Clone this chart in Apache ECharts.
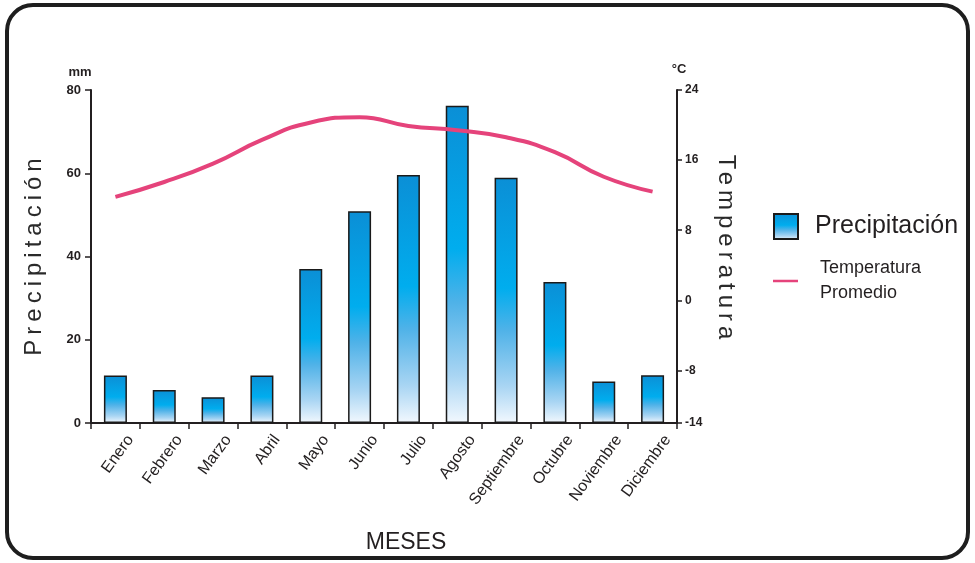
<!DOCTYPE html>
<html><head><meta charset="utf-8">
<script src="https://cdn.jsdelivr.net/npm/echarts@6/dist/echarts.min.js"></script>
<style>html,body{margin:0;padding:0;background:#fff}#c{width:975px;height:563px}</style>
</head><body><div id="c"></div>
<script>
const months = ['Enero','Febrero','Marzo','Abril','Mayo','Junio','Julio','Agosto','Septiembre','Octubre','Noviembre','Diciembre'];
const precipitation = [11.4, 7.9, 6.2, 11.4, 37, 50.9, 59.6, 76.2, 58.9, 33.9, 10, 11.5];
const temperature = [11.8, 13.5, 15.6, 18.3, 20.3, 20.9, 19.9, 19.4, 18.6, 16.9, 14.1, 12.4];
const precipTicks = [0, 20, 40, 60, 80];
const tempTicks = [-14, -8, 0, 8, 16, 24];

// letter spacing only for the two rotated axis titles
(function(){
  const orig = CanvasRenderingContext2D.prototype.fillText;
  CanvasRenderingContext2D.prototype.fillText = function(t, x, y, mw){
    const m = this.getTransform ? this.getTransform() : null;
    const spaced = m && Math.abs(m.b) > 0.9 && (t === 'Precipitación' || t === 'Temperatura') && ('letterSpacing' in this);
    if (spaced) {
      const f = this.font;
      this.letterSpacing = '5px';
      this.font = f;
      const r = orig.call(this, t, x, y);
      this.letterSpacing = '0px';
      this.font = '10px serif';
      this.font = f;
      return r;
    }
    if ('letterSpacing' in this && this.letterSpacing !== '0px') {
      const f = this.font;
      this.letterSpacing = '0px';
      this.font = '10px serif';
      this.font = f;
    }
    return mw === undefined ? orig.call(this, t, x, y) : orig.call(this, t, x, y, mw);
  };
})();

const FONT = 'Liberation Sans, Arial, Helvetica, sans-serif';
const INK = '#231f20';
const PINK = '#e5437b';
const barGradient = new echarts.graphic.LinearGradient(0, 0, 0, 1, [
  {offset: 0, color: '#0b8fd6'},
  {offset: 0.45, color: '#00adee'},
  {offset: 0.62, color: '#4fb2e8'},
  {offset: 0.85, color: '#a9d5f3'},
  {offset: 1, color: '#f2f8fe'}
]);

const chart = echarts.init(document.getElementById('c'), null, {renderer: 'canvas'});
chart.setOption({
  backgroundColor: '#ffffff',
  animation: false,
  textStyle: {fontFamily: FONT, color: INK},
  grid: {left: 91, right: 298, top: 90, bottom: 140, containLabel: false},
  legend: [
    {
      data: [{name: 'Precipitación', icon: 'rect'}], left: 773, top: 213, orient: 'vertical', padding: 0,
      itemWidth: 24, itemHeight: 25, selectedMode: false,
      itemStyle: {borderColor: '#1a1a1a', borderWidth: 2},
      textStyle: {fontSize: 25, color: INK, fontFamily: FONT, padding: [0, 0, 0, 12]}
    },
    {
      data: [{name: 'Temperatura Promedio', icon: 'rect', itemStyle: {color: PINK, borderWidth: 0}}],
      left: 773, top: 256, orient: 'vertical', padding: 0,
      itemWidth: 25, itemHeight: 2.5, selectedMode: false,
      formatter: function(){ return 'Temperatura\nPromedio'; },
      textStyle: {fontSize: 18, lineHeight: 25, color: INK, fontFamily: FONT, padding: [0, 0, 0, 17]}
    }
  ],
  xAxis: {
    type: 'category', data: months, boundaryGap: true,
    name: 'MESES', nameLocation: 'middle', nameGap: 104,
    nameTextStyle: {fontSize: 23, color: INK, fontFamily: FONT, padding: [4, 0, 0, 44]},
    axisLine: {lineStyle: {color: INK, width: 2}},
    axisTick: {show: true, alignWithLabel: false, length: 6, lineStyle: {color: INK, width: 1.5}},
    axisLabel: {rotate: 54, fontSize: 16, color: INK, margin: 3, interval: 0,
      align: 'right', verticalAlign: 'top', lineHeight: 37}
  },
  yAxis: [
    {
      type: 'value', min: 0, max: 80, interval: 20, position: 'left',
      name: 'Precipitación', nameLocation: 'middle', nameRotate: 90, nameGap: 45,
      nameTextStyle: {fontSize: 24, color: '#2a2a2a', fontFamily: FONT, padding: [0, 0, 0, 4]},
      axisLine: {show: true, lineStyle: {color: INK, width: 2}},
      axisTick: {show: true, length: 6, lineStyle: {color: INK, width: 1.5}},
      axisLabel: {fontSize: 13, fontWeight: 'bold', color: INK, margin: 10,
        customValues: precipTicks},
      splitLine: {show: false}
    },
    {
      type: 'value', min: -14, max: 24, position: 'right',
      name: 'Temperatura', nameLocation: 'middle', nameRotate: -90, nameGap: 36,
      nameTextStyle: {fontSize: 24, color: '#2a2a2a', fontFamily: FONT, padding: [0, 14, 0, 0]},
      axisLine: {show: true, lineStyle: {color: INK, width: 2}},
      axisTick: {show: true, length: 5, lineStyle: {color: INK, width: 1.5}, customValues: tempTicks},
      axisLabel: {fontSize: 12, fontWeight: 'bold', color: INK, margin: 8, customValues: tempTicks},
      splitLine: {show: false}
    }
  ],
  series: [
    {
      name: 'Precipitación', type: 'bar', data: precipitation, yAxisIndex: 0,
      barWidth: 23,
      itemStyle: {color: barGradient, borderColor: '#1a1a1a', borderWidth: 1.5},
      z: 2
    },
    {
      name: 'Temperatura Promedio', type: 'line', data: temperature, yAxisIndex: 1,
      smooth: true, symbol: 'none', showSymbol: false,
      lineStyle: {color: PINK, width: 4},
      itemStyle: {color: PINK},
      z: 5
    }
  ],
  graphic: [
    {type: 'rect', shape: {x: 7, y: 5, width: 961, height: 553, r: 26},
      style: {fill: 'none', stroke: '#1e1e1e', lineWidth: 4}, silent: true, z: 100},
    {type: 'text', x: 80, y: 72, style: {text: 'mm', font: 'bold 13px ' + FONT, fill: INK, textAlign: 'center', textVerticalAlign: 'middle'}},
    {type: 'text', x: 679, y: 69, style: {text: '°C', font: 'bold 13px ' + FONT, fill: INK, textAlign: 'center', textVerticalAlign: 'middle'}}
  ]
});
</script></body></html>
